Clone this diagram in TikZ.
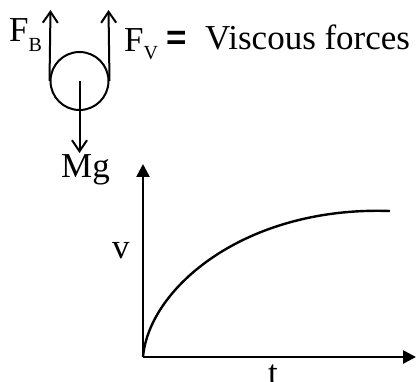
\documentclass[tikz,border=0pt]{standalone}
\usepackage{fontspec}
\setmainfont{Liberation Serif}
\newfontfamily\eqfont{Liberation Sans}
\usepackage{tikz}
\usetikzlibrary{arrows.meta}
\newcommand{\lowsub}[2]{\raisebox{-#1pt}{\fontsize{20}{20}\selectfont #2}}

\begin{document}
\begin{tikzpicture}[x=1pt, y=-1pt,
  force/.style={line width=2pt, -{Straight Barb[length=11pt, width=15pt, line width=2pt]}},
  axis/.style={line width=2.6pt, -{Triangle[length=13pt, width=13pt]}},
  lbl/.style={inner sep=0pt, anchor=base west, font=\fontsize{35}{40}\selectfont}]
\useasboundingbox (0,0) rectangle (420,382);
\clip (0,0) rectangle (420,382);

% Ball
\node[circle, draw, line width=2pt, minimum size=58pt, inner sep=0pt] (ball) at (79.5,81) {};

% Forces
\coordinate (fb) at (50.5,10);
\coordinate (fv) at (108.5,10);
\coordinate (mg) at (79.5,153);
\draw[force] (ball.west) -- (fb);
\draw[force] (ball.east) -- (fv);
\draw[force] (ball.center) -- (mg);

% Force labels
\node[lbl] (fblabel) at (9,42) {F\lowsub{10}{B}};
\node[lbl] (fvlabel) at (124,52) {F\lowsub{8}{V}};
\node[lbl] (eq) at (166,50) {\eqfont\bfseries =};
\node[lbl] (visc) at (205,50) {Viscous forces};
\node[lbl] (mglabel) at (61,178) {Mg};

% Axes
\coordinate (O) at (143,357);
\coordinate (ytip) at (143,164);
\coordinate (xtip) at (416,357);
\draw[axis] (O) -- (ytip);
\draw[axis] (O) -- (xtip);
\node[lbl] (vlabel) at (112,258) {v};
\node[lbl, anchor=base] (tlabel) at (273,384) {t};

% Velocity curve
\coordinate (vend) at (390,211);
\draw[line width=2.4pt] (O) .. controls (149,288) and (245,206) .. (vend);
\end{tikzpicture}
\end{document}
